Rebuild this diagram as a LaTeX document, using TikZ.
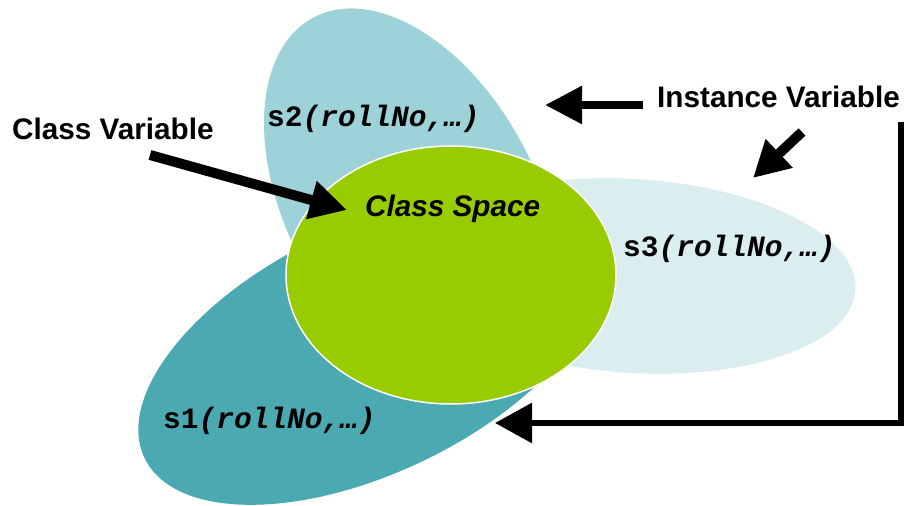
\documentclass[tikz,border=0pt]{standalone}
\usepackage{fontspec}
\newfontfamily\lsans{Liberation Sans}
\newfontfamily\lmono{Liberation Mono}
\usetikzlibrary{shapes.geometric,arrows.meta}
\definecolor{sone}{HTML}{4AA9B1}
\definecolor{stwo}{HTML}{9DD2D8}
\definecolor{sthree}{HTML}{DAEEF0}
\definecolor{cgreen}{HTML}{99CC00}
\tikzset{
  blob/.style={ellipse, inner sep=0pt, outer sep=0pt},
  lbl/.style={anchor=base west, inner sep=0pt, font=\lsans\bfseries\fontsize{29.7}{32}\selectfont},
  obj/.style={anchor=base west, inner sep=0pt, font=\lmono\bfseries\fontsize{29.5}{32}\selectfont},
  blockarrow/.style={draw=black, line width=#1},
}
\begin{document}
\begin{tikzpicture}[x=1pt,y=1pt]
\useasboundingbox (0,0) rectangle (906,506);
% ellipses
\node[blob, fill=stwo, minimum width=420pt, minimum height=250pt, rotate=-62] (s2) at (412,303) {};
\node[blob, fill=sthree, minimum width=446pt, minimum height=194pt, rotate=-3.6] (s3) at (633,230) {};
\node[blob, fill=sone, minimum width=500pt, minimum height=246pt, rotate=25.6] (s1) at (370,156) {};
\node[blob, fill=cgreen, draw=white, line width=1.5pt, minimum width=330pt, minimum height=258pt] (cs) at (451,231) {};
% labels
\node[lbl] (cv) at (12,366) {Class Variable};
\node[lbl] (iv) at (657,398) {Instance Variable};
\node[lbl, font=\lsans\bfseries\itshape\fontsize{29.7}{32}\selectfont] (csl) at (365,289) {Class Space};
\node[obj] (t2) at (267,379) {s2\itshape(rollNo,…)};
\node[obj] (t3) at (623,249) {s3\itshape(rollNo,…)};
\node[obj] (t1) at (163,77) {s1\itshape(rollNo,…)};
% arrow end points
\coordinate (a1s) at (150,351);
\coordinate (a1e) at (347,296);
\coordinate (a2s) at (643,401);
\coordinate (a2e) at (545,401);
\coordinate (a3s) at (802,374);
\coordinate (a3e) at (753,328);
\coordinate (a4s) at (901,384);
\coordinate (a4c) at (901,83);
\coordinate (a4e) at (495,83);
% arrows
\draw[blockarrow=10pt, -{Triangle[length=37pt,width=37pt]}] (a1s) -- (a1e);
\draw[blockarrow=8.5pt, -{Triangle[length=37pt,width=36pt]}] (a2s) -- (a2e);
\draw[blockarrow=10pt, -{Triangle[length=36pt,width=37pt]}] (a3s) -- (a3e);
\draw[blockarrow=6pt, miter limit=10, -{Triangle[length=37pt,width=39pt]}] (a4s) -- (a4c) -- (a4e);
\end{tikzpicture}
\end{document}
